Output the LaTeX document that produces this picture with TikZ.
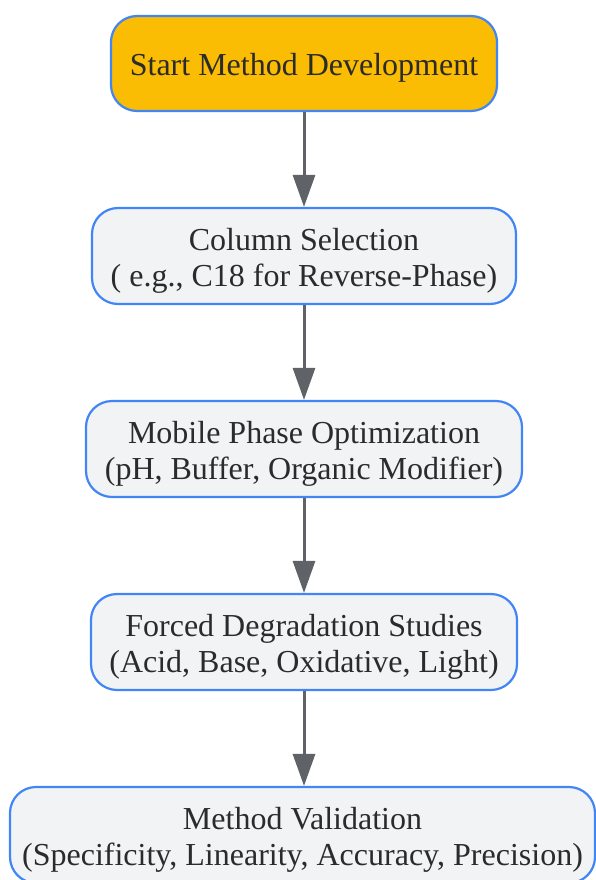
\documentclass[tikz,border=0pt]{standalone}
\usepackage{fontspec}
\setmainfont{Liberation Serif}
\usetikzlibrary{arrows.meta}
\definecolor{startfill}{HTML}{FBBC04}
\definecolor{boxfill}{HTML}{F1F3F4}
\definecolor{boxline}{HTML}{4285F4}
\definecolor{arrowcol}{HTML}{5F6368}
\definecolor{txt}{HTML}{2B2B2B}
\newcommand{\boxtext}[1]{\raisebox{-5pt}[\height][\depth]{\setlength{\tabcolsep}{0pt}\begin{tabular}{c}#1\end{tabular}}}
\begin{document}
\begin{tikzpicture}[x=1pt,y=-1pt,
  box/.style={draw=boxline, line width=2.2pt, fill=boxfill, rounded corners=26pt,
    align=center, inner sep=0pt, text=txt,
    font=\fontsize{32}{36.5}\selectfont, minimum height=96pt},
  startbox/.style={box, fill=startfill},
  conn/.style={draw=arrowcol, line width=3pt, -{Triangle[width=22pt,length=32pt]}}]
\useasboundingbox (0,0) rectangle (596,880);
\node[startbox, minimum width=386pt, minimum height=95pt] (s) at (304,63.5) {\boxtext{Start Method Development}};
\node[box, minimum width=424pt] (c) at (304,256) {\boxtext{Column Selection\\( e.g., C18 for Reverse-Phase)}};
\node[box, minimum width=436pt] (m) at (304,449) {\boxtext{Mobile Phase Optimization\\(pH, Buffer, Organic Modifier)}};
\node[box, minimum width=426pt] (f) at (304,642) {\boxtext{Forced Degradation Studies\\(Acid, Base, Oxidative, Light)}};
\node[box, minimum width=585pt] (v) at (302.5,835) {\boxtext{Method Validation\\(Specificity, Linearity, Accuracy, Precision)}};
\draw[conn] (s.south) -- (c.north);
\draw[conn] (c.south) -- (m.north);
\draw[conn] (m.south) -- (f.north);
\draw[conn] (f.south) -- (f.south |- v.north);
\end{tikzpicture}
\end{document}
